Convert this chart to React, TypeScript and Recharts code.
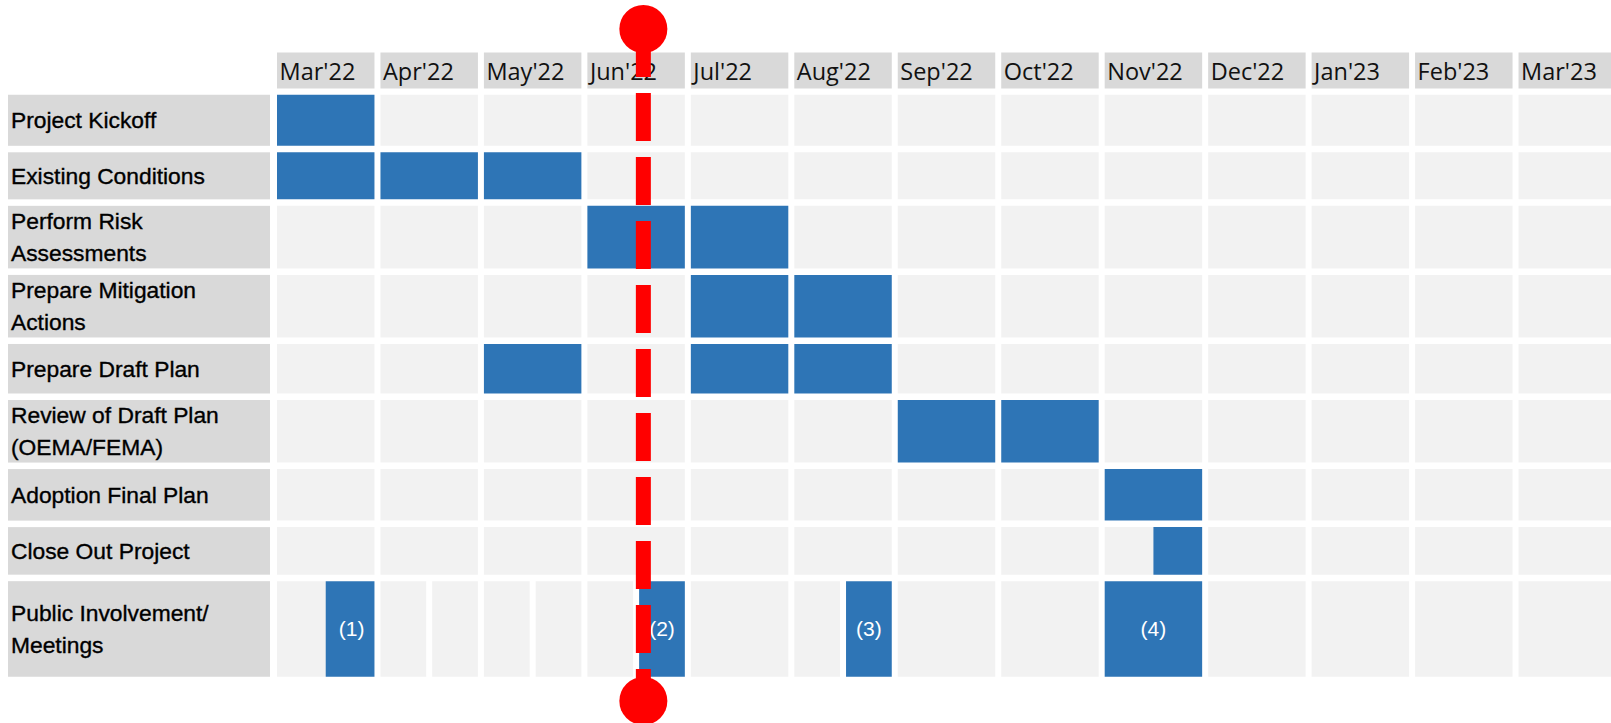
import React from "react";
import { ComposedChart, XAxis, YAxis, ReferenceArea, ReferenceLine } from "recharts";

const months = [
  "Mar'22", "Apr'22", "May'22", "Jun'22", "Jul'22", "Aug'22", "Sep'22",
  "Oct'22", "Nov'22", "Dec'22", "Jan'23", "Feb'23", "Mar'23",
];

const tasks = [
  ["Project Kickoff"],
  ["Existing Conditions"],
  ["Perform Risk", "Assessments"],
  ["Prepare Mitigation", "Actions"],
  ["Prepare Draft Plan"],
  ["Review of Draft Plan", "(OEMA/FEMA)"],
  ["Adoption Final Plan"],
  ["Close Out Project"],
  ["Public Involvement/", "Meetings"],
];

// active periods per task, in months counted from Mar'22
const activity = [
  [[0, 1]],
  [[0, 1], [1, 2], [2, 3]],
  [[3, 4], [4, 5]],
  [[4, 5], [5, 6]],
  [[2, 3], [4, 5], [5, 6]],
  [[6, 7], [7, 8]],
  [[8, 9]],
  [[8.5, 9]],
  [[0.5, 1], [3.5, 4], [5.5, 6], [8, 9]],
];

const meetingTags = ["(1)", "(2)", "(3)", "(4)"];
// months drawn as two half-month slots in the meetings row
const meetingHalfMonths = [1, 2, 3, 5];
// status date, ~17 Jun 2022
const today = 3.57;

// layout
const W = 1619;
const H = 723;
const MARGIN = { top: 52, right: 0, bottom: 43, left: 8 };
const HEADER_H = 39.5;
const LABEL_W = 266;
const rowHeights = [57.5, 53.5, 69, 69, 56, 69, 58, 54, 102];
const totalRows = rowHeights.reduce((a, b) => a + b, 0);
const rowTops = rowHeights.map((_, i) => rowHeights.slice(0, i).reduce((a, b) => a + b, 0));
const rowCenters = rowTops.map((t, i) => t + rowHeights[i] / 2);
const PLOT_W = W - MARGIN.left - LABEL_W - MARGIN.right;
const PLOT_H = H - MARGIN.top - HEADER_H - MARGIN.bottom;
const PX = PLOT_H / totalRows;
const PITCH = PLOT_W / months.length;
const GAP = 6.5;

const BLUE = "#2E75B6";
const CELL = "#F2F2F2";
const HEAD = "#D9D9D9";
const FONT = "'Liberation Sans', Arial, sans-serif";
const HEAD_FONT = "'Open Sans', sans-serif";

const monthData = [...months, ""].map((label, i) => ({ m: i, label }));

const HeaderTick = (props: any) => {
  const { x, payload } = props;
  return (
    <g>
      <rect x={x + 3} y={52.5} width={PITCH - 6} height={36} fill={HEAD} />
      <text x={x + 5.5} y={79.5} fontSize={23.5} fontFamily={HEAD_FONT} fill="#111">
        {months[payload.value]}
      </text>
    </g>
  );
};

const RowTick = (props: any) => {
  const { y, payload } = props;
  let i = 0;
  rowCenters.forEach((c, k) => {
    if (Math.abs(c - payload.value) < Math.abs(rowCenters[i] - payload.value)) i = k;
  });
  const h = rowHeights[i] * PX;
  const lines = tasks[i];
  return (
    <g>
      <rect x={8} y={y - h / 2 + GAP / 2} width={262} height={h - GAP} fill={HEAD} />
      {lines.map((t, k) => (
        <text
          key={k}
          x={11}
          y={y + 8 - (lines.length - 1) * 16 + k * 32}
          fontSize={22.8}
          fontFamily={FONT}
          fill="#000"
          stroke="#000"
          strokeWidth={0.35}
        >
          {t}
        </text>
      ))}
    </g>
  );
};

const TodayMarker = (props: any) => {
  const { x1, y1, y2 } = props;
  const top = Math.min(y1, y2) - 62.5;
  const bottom = Math.max(y1, y2) + 21;
  return (
    <g>
      <line x1={x1} x2={x1} y1={top} y2={bottom} stroke="#FF0000" strokeWidth={15} strokeDasharray="48 16" />
      <circle cx={x1} cy={top} r={24} fill="#FF0000" />
      <circle cx={x1} cy={bottom} r={24} fill="#FF0000" />
    </g>
  );
};

export default function App() {
  const lastRow = tasks.length - 1;
  const rowEdges = [...rowTops, totalRows];
  return (
    <div style={{ position: "absolute", left: 0, top: 0, width: 1611, height: 723, overflow: "hidden", background: "#fff" }}>
      <ComposedChart width={W} height={H} margin={MARGIN} data={monthData}>
        <XAxis
          dataKey="m"
          type="number"
          orientation="top"
          domain={[0, months.length]}
          allowDataOverflow
          ticks={months.map((_, i) => i)}
          interval={0}
          tick={<HeaderTick />}
          axisLine={false}
          tickLine={false}
          height={HEADER_H}
        />
        <YAxis
          type="number"
          reversed
          domain={[0, totalRows]}
          allowDataOverflow
          ticks={rowCenters}
          interval={0}
          tick={<RowTick />}
          axisLine={false}
          tickLine={false}
          width={LABEL_W}
        />
        {tasks.map((_, r) => (
          <ReferenceArea
            key={`g-${r}`}
            x1={0}
            x2={months.length}
            y1={rowTops[r]}
            y2={rowTops[r] + rowHeights[r]}
            fill={CELL}
            fillOpacity={1}
            ifOverflow="visible"
          />
        ))}
        {activity.map((spans, r) =>
          spans.map(([a, b], k) => (
            <ReferenceArea
              key={`b-${r}-${k}`}
              x1={a}
              x2={b}
              y1={rowTops[r]}
              y2={rowTops[r] + rowHeights[r]}
              fill={BLUE}
              fillOpacity={1}
              ifOverflow="visible"
              label={
                r === lastRow
                  ? { value: meetingTags[k], position: "center", fill: "#fff", fontSize: 21, fontFamily: FONT }
                  : undefined
              }
            />
          ))
        )}
        {/* white gutters between cells */}
        {monthData.map((d) => (
          <ReferenceLine
            key={`v-${d.m}`}
            segment={[{ x: d.m, y: 0 }, { x: d.m, y: totalRows }]}
            stroke="#fff"
            strokeWidth={6}
            ifOverflow="visible"
          />
        ))}
        {rowEdges.map((e, i) => (
          <ReferenceLine
            key={`h-${i}`}
            segment={[{ x: 0, y: e }, { x: months.length, y: e }]}
            stroke="#fff"
            strokeWidth={GAP}
            ifOverflow="visible"
          />
        ))}
        {meetingHalfMonths.map((m) => (
          <ReferenceLine
            key={`s-${m}`}
            segment={[{ x: m + 0.5, y: rowTops[lastRow] }, { x: m + 0.5, y: totalRows }]}
            stroke="#fff"
            strokeWidth={6}
            ifOverflow="visible"
          />
        ))}
        <ReferenceLine x={today} ifOverflow="visible" shape={<TodayMarker />} zIndex={2000} />
      </ComposedChart>
    </div>
  );
}
